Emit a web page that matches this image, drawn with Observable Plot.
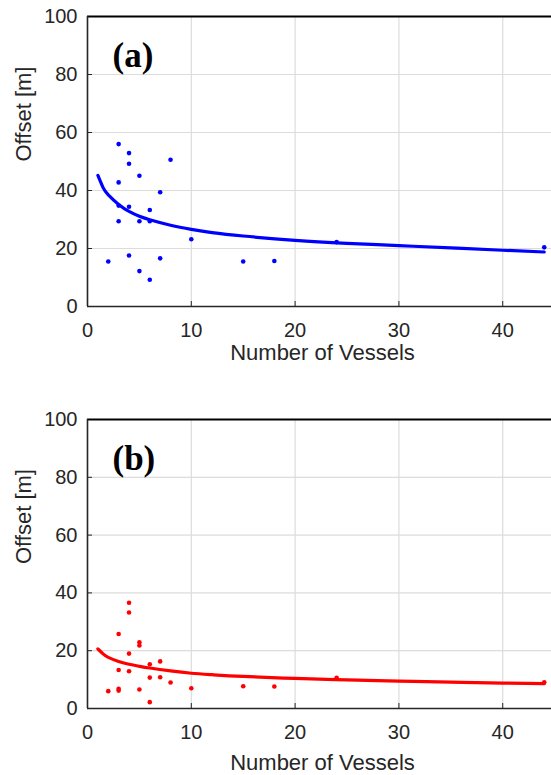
<!DOCTYPE html>
<html>
<head>
<meta charset="utf-8">
<script src="https://cdn.jsdelivr.net/npm/d3@7"></script>
<script src="https://cdn.jsdelivr.net/npm/@observablehq/plot@0.6"></script>
<style>
  html, body { margin: 0; padding: 0; background: #fff; overflow: hidden; }
  svg { display: block; }
</style>
</head>
<body>
<div id="chart"></div>
<script>
// Panel (a) observations
const xA = [2,3,3,3,3,4,4,4,4,5,5,5,6,6,6,7,7,8,10,15,18,24,44];
const yA = [15.5,56.0,42.8,34.8,29.4,52.9,49.2,34.4,17.6,45.1,29.4,12.2,33.3,29.4,9.2,39.4,16.6,50.6,23.2,15.5,15.7,22.2,20.4];
// Panel (b) observations
const xB = [2,3,3,3,3,4,4,4,4,5,5,5,6,6,6,7,7,8,10,15,18,24,44];
const yB = [6.0,25.8,13.3,6.8,6.2,36.6,33.2,19.0,12.9,22.9,21.8,6.6,15.3,10.7,2.2,16.3,10.8,9.0,7.0,7.7,7.6,10.6,9.1];
// Fitted curves
const fitX = [1,1.5,2,3,4,5,6,8,10,12,15,20,25,30,35,40,44];
const fitA = [45.2,41.0,38.5,35.2,32.8,31.1,29.9,28.0,26.6,25.5,24.3,22.8,21.8,21.0,20.2,19.4,18.8];
const fitB = [20.6,18.9,17.7,16.3,15.3,14.6,14.0,13.0,12.2,11.7,11.1,10.4,9.9,9.5,9.1,8.8,8.6];
// Ticks & labels
const xTicks = [0,10,20,30,40];
const yTicks = [0,20,40,60,80,100];
const panelLabels = ["(a)", "(b)"];
const xTitle = "Number of Vessels";
const yTitle = "Offset [m]";

const ink = "#262626";

function panel({xs, ys, fit, color, label, height, marginTop, marginBottom, titleDy}) {
  const pts = xs.map((x, i) => ({x, y: ys[i]}));
  const curve = fitX.map((x, i) => ({x, y: fit[i]}));
  return Plot.plot({
    width: 551,
    height,
    marginLeft: 87,
    marginRight: 0,
    marginTop,
    marginBottom,
    style: {fontFamily: "'Liberation Sans', Arial, sans-serif", color: ink, background: "#fff", overflow: "visible"},
    x: {domain: [0, 44.7], label: null},
    y: {domain: [0, 100], label: null},
    marks: [
      Plot.gridX(xTicks, {stroke: "#dcdcdc", strokeOpacity: 1, strokeWidth: 1.2}),
      Plot.gridY(yTicks, {stroke: "#dcdcdc", strokeOpacity: 1, strokeWidth: 1.2}),
      Plot.axisX(xTicks, {tickSize: 0, tickPadding: 16, fontSize: 20, fill: ink}),
      Plot.axisX(xTicks, {tickSize: -5, tickFormat: () => "", stroke: ink}),
      Plot.axisY(yTicks, {tickSize: 0, tickPadding: 10, fontSize: 20, fill: ink}),
      Plot.axisY(yTicks, {tickSize: -5, tickFormat: () => "", stroke: ink}),
      Plot.ruleY([100], {stroke: "#000", strokeWidth: 1.8}),
      Plot.ruleX([0], {stroke: ink, strokeWidth: 1.6}),
      Plot.ruleY([0], {stroke: ink, strokeWidth: 1.6}),
      Plot.line(curve, {x: "x", y: "y", stroke: color, strokeWidth: 3.2, curve: "natural"}),
      Plot.dot(pts, {x: "x", y: "y", fill: color, r: 2.3, stroke: null}),
      Plot.text([label], {frameAnchor: "top-left", text: d => d, dx: 25, dy: 39, textAnchor: "start", lineAnchor: "middle",
        fontFamily: "'Liberation Serif', 'Times New Roman', serif", fontWeight: "bold", fontSize: 35, fill: "#000"}),
      Plot.text([xTitle], {frameAnchor: "bottom", text: d => d, dx: 3, dy: titleDy, lineAnchor: "middle", fontSize: 22, fill: ink}),
      Plot.text([yTitle], {frameAnchor: "left", text: d => d, dx: -64, rotate: -90, lineAnchor: "middle", fontSize: 22, fill: ink})
    ]
  });
}

const chart = document.getElementById("chart");
chart.append(panel({xs: xA, ys: yA, fit: fitA, color: "#0000ff", label: panelLabels[0], height: 368, marginTop: 16, marginBottom: 62, titleDy: 46}));
chart.append(panel({xs: xB, ys: yB, fit: fitB, color: "#ff0000", label: panelLabels[1], height: 407, marginTop: 51, marginBottom: 67, titleDy: 54}));
</script>
</body>
</html>
